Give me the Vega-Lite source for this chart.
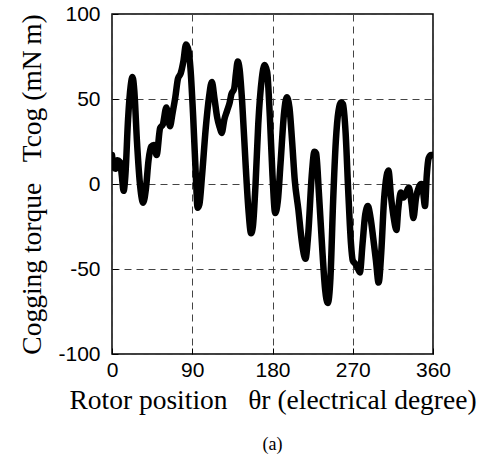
{
  "$schema": "https://vega.github.io/schema/vega-lite/v6.json",
  "autosize": "none",
  "padding": {"left": 112, "top": 14, "right": 57, "bottom": 105},
  "width": 321,
  "height": 340,
  "background": "white",
  "title": {"text": "(a)", "orient": "bottom", "font": "Times New Roman, Liberation Serif, serif", "fontSize": 18, "fontWeight": "normal", "color": "black", "offset": 22, "anchor": "middle"},
  "config": {
    "view": {"stroke": "black", "strokeWidth": 1.5},
    "axis": {
      "grid": true, "gridColor": "#444", "gridDash": [7, 5], "gridWidth": 1, "gridOpacity": 1,
      "domain": false, "ticks": true, "tickSize": -6, "tickColor": "black", "tickWidth": 1,
      "labelFont": "Liberation Sans", "labelFontSize": 21, "labelColor": "black",
      "titleFont": "Times New Roman, Liberation Serif, serif", "titleFontSize": 27.5, "titleFontWeight": "normal", "titleColor": "black"
    }
  },
  "data": {"values": [
    {"theta": 0, "torque": 17}, {"theta": 2, "torque": 10}, {"theta": 4, "torque": 9}, {"theta": 6, "torque": 14},
    {"theta": 9, "torque": 13}, {"theta": 11, "torque": 5}, {"theta": 13, "torque": -4}, {"theta": 15, "torque": 5},
    {"theta": 18, "torque": 38}, {"theta": 21, "torque": 58}, {"theta": 23, "torque": 63}, {"theta": 25, "torque": 55},
    {"theta": 28, "torque": 25}, {"theta": 31, "torque": 2}, {"theta": 35, "torque": -11}, {"theta": 38, "torque": -3},
    {"theta": 41, "torque": 14}, {"theta": 44, "torque": 22}, {"theta": 47, "torque": 23}, {"theta": 50, "torque": 17},
    {"theta": 54, "torque": 33}, {"theta": 57, "torque": 35}, {"theta": 61, "torque": 45}, {"theta": 65, "torque": 34},
    {"theta": 68, "torque": 42}, {"theta": 71, "torque": 51}, {"theta": 74, "torque": 62}, {"theta": 77, "torque": 65},
    {"theta": 80, "torque": 72}, {"theta": 83, "torque": 82}, {"theta": 86, "torque": 78}, {"theta": 88, "torque": 68},
    {"theta": 91, "torque": 40}, {"theta": 94, "torque": 5}, {"theta": 96, "torque": -14}, {"theta": 98, "torque": -12},
    {"theta": 101, "torque": 5}, {"theta": 105, "torque": 32}, {"theta": 109, "torque": 52}, {"theta": 112, "torque": 60},
    {"theta": 115, "torque": 50}, {"theta": 118, "torque": 39}, {"theta": 121, "torque": 33}, {"theta": 123, "torque": 30},
    {"theta": 126, "torque": 38}, {"theta": 129, "torque": 43}, {"theta": 132, "torque": 48}, {"theta": 134, "torque": 53},
    {"theta": 137, "torque": 56}, {"theta": 139, "torque": 65}, {"theta": 141, "torque": 72}, {"theta": 143, "torque": 68},
    {"theta": 146, "torque": 48}, {"theta": 150, "torque": 10}, {"theta": 153, "torque": -15}, {"theta": 156, "torque": -29},
    {"theta": 158, "torque": -25}, {"theta": 161, "torque": 0}, {"theta": 164, "torque": 35}, {"theta": 168, "torque": 62},
    {"theta": 171, "torque": 70}, {"theta": 174, "torque": 66}, {"theta": 177, "torque": 40}, {"theta": 180, "torque": 5},
    {"theta": 183, "torque": -17}, {"theta": 186, "torque": -10}, {"theta": 189, "torque": 12}, {"theta": 193, "torque": 42},
    {"theta": 196, "torque": 51}, {"theta": 199, "torque": 45}, {"theta": 202, "torque": 25}, {"theta": 205, "torque": 2},
    {"theta": 209, "torque": -15}, {"theta": 212, "torque": -30}, {"theta": 214, "torque": -38}, {"theta": 217, "torque": -44},
    {"theta": 220, "torque": -30}, {"theta": 224, "torque": 5}, {"theta": 227, "torque": 19}, {"theta": 229, "torque": 18},
    {"theta": 232, "torque": -5}, {"theta": 236, "torque": -40}, {"theta": 239, "torque": -62}, {"theta": 242, "torque": -70},
    {"theta": 245, "torque": -55}, {"theta": 248, "torque": -10}, {"theta": 251, "torque": 25}, {"theta": 254, "torque": 43},
    {"theta": 257, "torque": 48}, {"theta": 259, "torque": 47}, {"theta": 262, "torque": 30}, {"theta": 265, "torque": -5},
    {"theta": 268, "torque": -35}, {"theta": 270, "torque": -45}, {"theta": 273, "torque": -47}, {"theta": 276, "torque": -50},
    {"theta": 278, "torque": -52}, {"theta": 281, "torque": -35}, {"theta": 284, "torque": -18}, {"theta": 287, "torque": -13},
    {"theta": 290, "torque": -20}, {"theta": 293, "torque": -32}, {"theta": 296, "torque": -45}, {"theta": 299, "torque": -58},
    {"theta": 302, "torque": -40}, {"theta": 305, "torque": -10}, {"theta": 308, "torque": 5}, {"theta": 310, "torque": 8},
    {"theta": 313, "torque": -8}, {"theta": 316, "torque": -20}, {"theta": 319, "torque": -27}, {"theta": 321, "torque": -15},
    {"theta": 324, "torque": -5}, {"theta": 327, "torque": -8}, {"theta": 330, "torque": -5}, {"theta": 333, "torque": -2},
    {"theta": 336, "torque": -12}, {"theta": 338, "torque": -20}, {"theta": 341, "torque": -8}, {"theta": 344, "torque": -2},
    {"theta": 347, "torque": 0}, {"theta": 349, "torque": -5}, {"theta": 351, "torque": -13}, {"theta": 353, "torque": 5},
    {"theta": 355, "torque": 15}, {"theta": 358, "torque": 17}, {"theta": 360, "torque": 17}
  ]},
  "mark": {"type": "line", "color": "black", "strokeWidth": 6.5, "strokeJoin": "round", "strokeCap": "round", "interpolate": "monotone", "clip": true},
  "encoding": {
    "x": {"field": "theta", "type": "quantitative", "scale": {"domain": [0, 360], "nice": false},
      "axis": {"values": [0, 90, 180, 270, 360], "title": "Rotor position \u2002\u03b8r (electrical degree)", "labelPadding": 11, "titlePadding": 6, "labelFlush": false, "titleLimit": 500}},
    "y": {"field": "torque", "type": "quantitative", "scale": {"domain": [-100, 100], "nice": false},
      "axis": {"values": [-100, -50, 0, 50, 100], "labelExpr": "'' + datum.value", "title": "Cogging torque \u2002Tcog (mN\u2009m)", "labelPadding": 18, "titlePadding": 11, "labelFlush": false, "titleLimit": 500}}
  }
}
